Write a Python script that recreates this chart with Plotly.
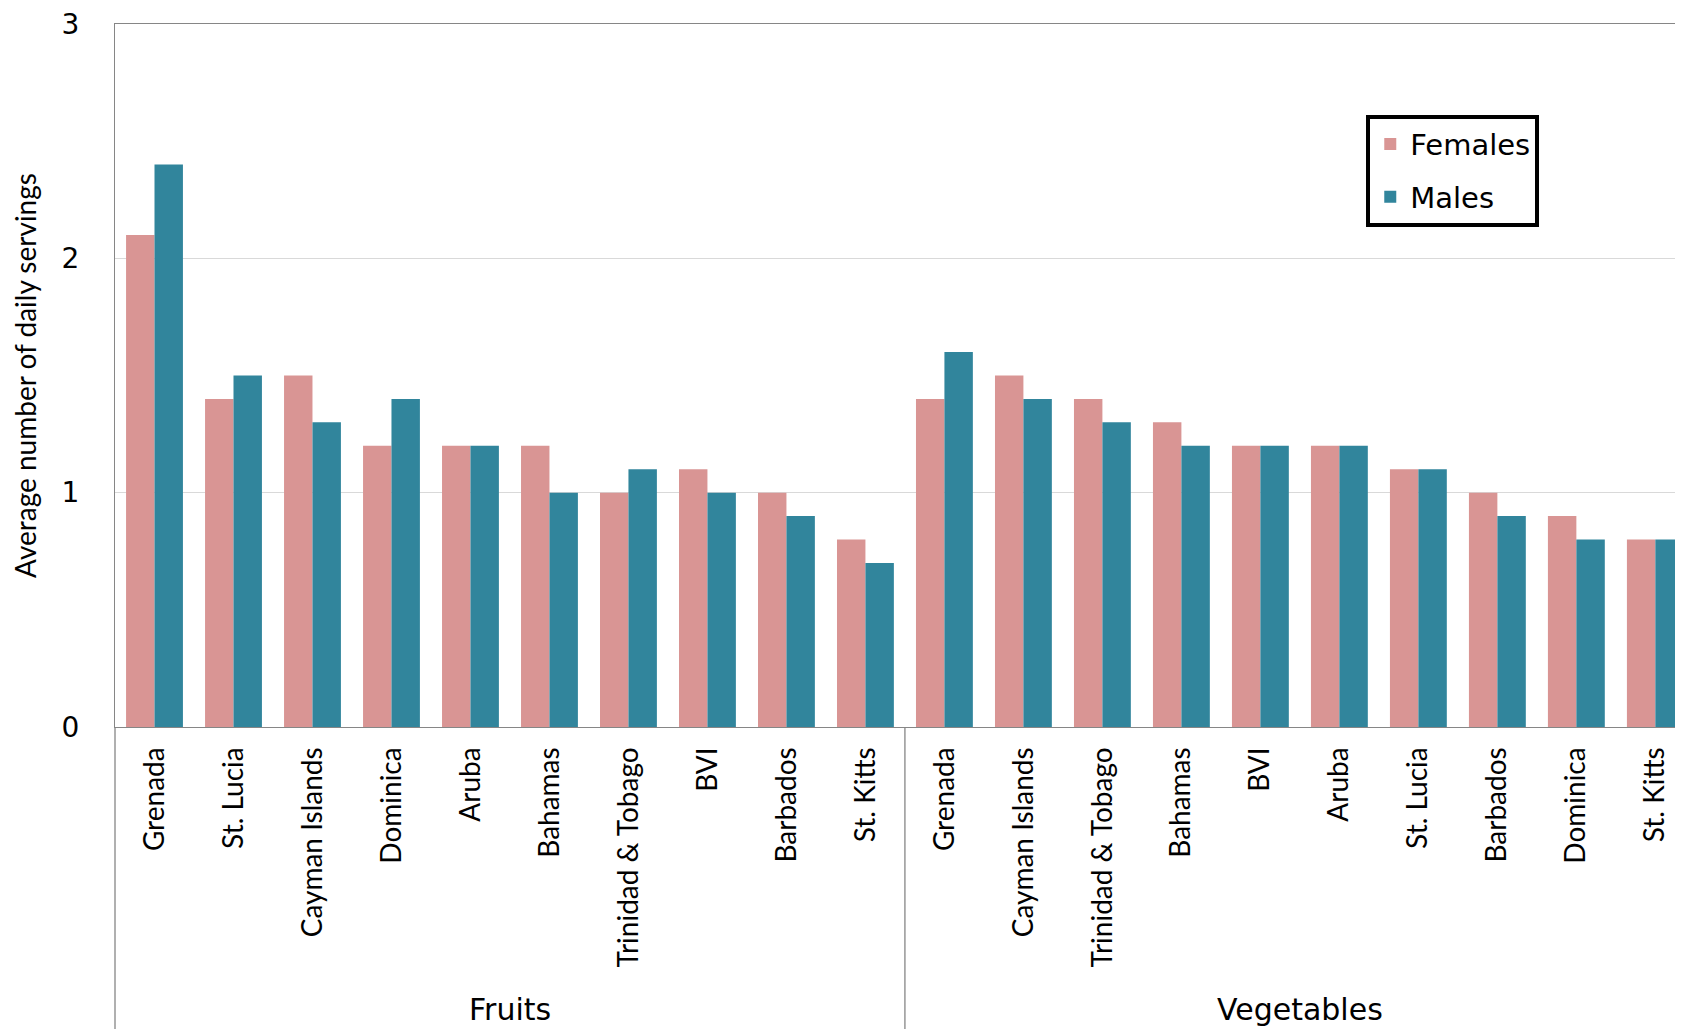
import plotly.graph_objects as go

groups = ["Fruits", "Vegetables"]
fruit_countries = ["Grenada", "St. Lucia", "Cayman Islands", "Dominica", "Aruba",
                   "Bahamas", "Trinidad & Tobago", "BVI", "Barbados", "St. Kitts"]
veg_countries = ["Grenada", "Cayman Islands", "Trinidad & Tobago", "Bahamas", "BVI",
                 "Aruba", "St. Lucia", "Barbados", "Dominica", "St. Kitts"]
fruit_females = [2.1, 1.4, 1.5, 1.2, 1.2, 1.2, 1.0, 1.1, 1.0, 0.8]
fruit_males = [2.4, 1.5, 1.3, 1.4, 1.2, 1.0, 1.1, 1.0, 0.9, 0.7]
veg_females = [1.4, 1.5, 1.4, 1.3, 1.2, 1.2, 1.1, 1.0, 0.9, 0.8]
veg_males = [1.6, 1.4, 1.3, 1.2, 1.2, 1.2, 1.1, 0.9, 0.8, 0.8]
y_ticks = [0, 1, 2, 3]

labels = fruit_countries + veg_countries
females = fruit_females + veg_females
males = fruit_males + veg_males
xpos = list(range(len(labels)))

FEM = "#D99594"
MAL = "#31859C"
LBL_FONT = "Lato, Liberation Sans, sans-serif"

fig = go.Figure()
fig.add_trace(go.Bar(x=xpos, y=females, name="Females", marker_color=FEM,
                     marker_line_width=0, legendgroup="f"))
fig.add_trace(go.Bar(x=xpos, y=males, name="Males", marker_color=MAL,
                     marker_line_width=0, legendgroup="m"))

n = len(fruit_countries)
# group labels
for i, g in enumerate(groups):
    fig.add_annotation(x=i * n + (n - 1) / 2, y=-0.402, xref="x", yref="paper",
                       text=g, showarrow=False, yanchor="middle",
                       font=dict(family="DejaVu Sans", size=30, color="black"))
# divider between groups and left axis extension
fig.add_shape(type="line", xref="x", yref="paper", x0=n - 0.5, x1=n - 0.5,
              y0=0, y1=-0.45, line=dict(color="#868686", width=1.3))
fig.add_shape(type="line", xref="paper", yref="paper", x0=0, x1=0,
              y0=0, y1=-0.45, line=dict(color="#868686", width=1.3))

fig.update_layout(
    width=1675, height=1021,
    margin=dict(l=107, r=0, t=14, b=302),
    paper_bgcolor="white", plot_bgcolor="white",
    barmode="group", bargap=0.28, bargroupgap=0,
    legend=dict(x=0.798, y=0.871, xanchor="left", yanchor="top",
                bgcolor="white", bordercolor="black", borderwidth=4,
                font=dict(family="DejaVu Sans", size=29, color="black"),
                traceorder="grouped", tracegroupgap=12),
    xaxis=dict(range=[-0.5, len(labels) - 0.65], tickmode="array", tickvals=xpos,
               ticktext=labels, tickangle=-90, showgrid=False, showline=True,
               linecolor="#868686", linewidth=1.3, mirror=True, ticks="",
               ticklabelstandoff=8,
               tickfont=dict(family=LBL_FONT, size=28, color="black")),
    yaxis=dict(range=[0, 3], tickvals=y_ticks, showgrid=True, gridcolor="#D9D9D9",
               gridwidth=1, zeroline=False, showline=True, linecolor="#868686",
               linewidth=1.3, ticks="", ticklabelstandoff=29,
               ticklabeloverflow="allow",
               tickfont=dict(family="DejaVu Sans", size=28, color="black"),
               title=dict(text="Average number of daily servings", standoff=27,
                          font=dict(family=LBL_FONT, size=28, color="black"))),
)

fig.write_html("out.html")
